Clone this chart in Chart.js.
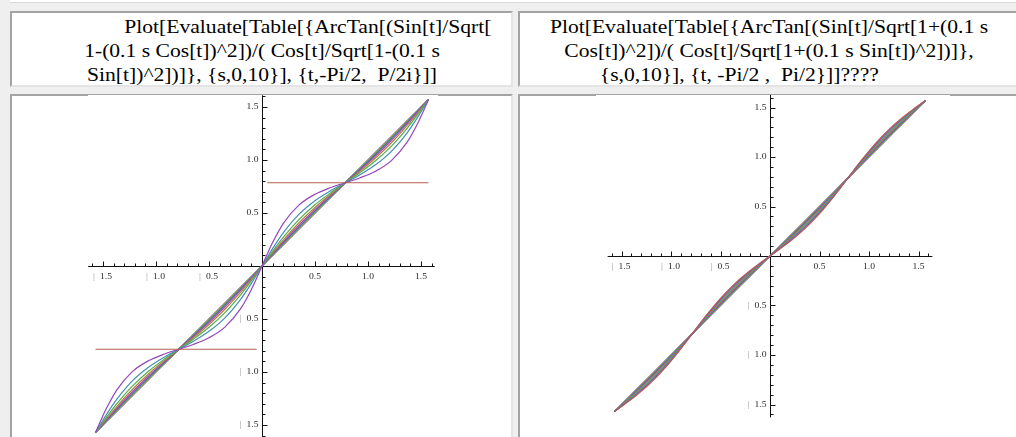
<!DOCTYPE html>
<html>
<head>
<meta charset="utf-8">
<script src="https://cdn.jsdelivr.net/npm/chart.js@4.4.1/dist/chart.umd.min.js"></script>
<style>
html, body { margin: 0; padding: 0; }
body {
  width: 1016px; height: 437px; overflow: hidden; position: relative;
  background: #efefef;
  font-family: "Liberation Serif", "Times New Roman", serif;
}
.cell {
  position: absolute; box-sizing: border-box; background: #fff;
  border-style: solid; border-width: 2px;
  border-color: #a3a3a3 #e4e4e4 #e4e4e4 #a3a3a3;
}
.top { border-width: 0 0 1px 0; border-color: #d8d8d8; }
.code {
  position: absolute; top: 2px; left: 50%; width: 460px; margin-left: -230px;
  font-size: 18px; line-height: 24px; color: #000;
  text-align: center; white-space: nowrap;
  transform: scaleX(1.2); transform-origin: center top;
}
canvas { position: absolute; background: #fff; }
</style>
</head>
<body>

<div class="cell top" style="left:10px; top:-30px; width:1010px; height:33px;"></div>

<div class="cell" style="left:10px; top:11px; width:503px; height:76px;">
  <div class="code">&nbsp;&nbsp;&nbsp;&nbsp;&nbsp;&nbsp;&nbsp;&nbsp;&nbsp;&nbsp;&nbsp;&nbsp;&nbsp;&nbsp;&nbsp;&nbsp;&nbsp;Plot[Evaluate[Table[{ArcTan[(Sin[t]/Sqrt[<br>1-(0.1 s Cos[t])^2])/( Cos[t]/Sqrt[1-(0.1 s<br>Sin[t])^2])]}, {s,0,10}], {t,-Pi/2, &nbsp;P/2i}]]</div>
</div>
<div class="cell" style="left:518px; top:11px; width:502px; height:76px;">
  <div class="code">Plot[Evaluate[Table[{ArcTan[(Sin[t]/Sqrt[1+(0.1 s<br>Cos[t])^2])/( Cos[t]/Sqrt[1+(0.1 s Sin[t])^2])]},<br>{s,0,10}], {t, -Pi/2 , &nbsp;Pi/2}]]????&nbsp;&nbsp;&nbsp;&nbsp;&nbsp;&nbsp;&nbsp;&nbsp;&nbsp;&nbsp;&nbsp;</div>
</div>

<div class="cell" style="left:10px; top:94px; width:503px; height:380px;"></div>
<div class="cell" style="left:518px; top:94px; width:502px; height:380px;"></div>

<canvas id="plotLeft" width="350" height="342" style="left:88px; top:95px;"></canvas>
<canvas id="plotRight" width="354" height="342" style="left:596px; top:95px;"></canvas>

<script>
// t from -Pi/2 to Pi/2
const tValues = [-1.5708,-1.5208,-1.4708,-1.3708,-1.2208,-1.0708,-0.9208,-0.7854,-0.65,-0.5,-0.35,-0.2,-0.1,-0.05,0,0.05,0.1,0.2,0.35,0.5,0.65,0.7854,0.9208,1.0708,1.2208,1.3708,1.4708,1.5208,1.5708];
const sValues = [0,1,2,3,4,5,6,7,8,9,10];

// left plot: Sqrt[1-(0.1 s ...)^2]
const leftS0 = [-1.5708,-1.5208,-1.4708,-1.3708,-1.2208,-1.0708,-0.9208,-0.7854,-0.65,-0.5,-0.35,-0.2,-0.1,-0.05,0,0.05,0.1,0.2,0.35,0.5,0.65,0.7854,0.9208,1.0708,1.2208,1.3708,1.4708,1.5208,1.5708];
const leftS1 = [-1.5708,-1.5205,-1.4703,-1.3699,-1.2196,-1.0697,-0.9202,-0.7854,-0.6506,-0.5011,-0.3512,-0.2009,-0.1005,-0.0503,0,0.0503,0.1005,0.2009,0.3512,0.5011,0.6506,0.7854,0.9202,1.0697,1.2196,1.3699,1.4703,1.5205,1.5708];
const leftS2 = [-1.5708,-1.5198,-1.4688,-1.3671,-1.2158,-1.0661,-0.9182,-0.7854,-0.6526,-0.5047,-0.3550,-0.2037,-0.1020,-0.0510,0,0.0510,0.1020,0.2037,0.3550,0.5047,0.6526,0.7854,0.9182,1.0661,1.2158,1.3671,1.4688,1.5198,1.5708];
const leftS3 = [-1.5708,-1.5184,-1.4661,-1.3622,-1.2090,-1.0600,-0.9147,-0.7854,-0.6561,-0.5108,-0.3618,-0.2086,-0.1047,-0.0524,0,0.0524,0.1047,0.2086,0.3618,0.5108,0.6561,0.7854,0.9147,1.0600,1.2090,1.3622,1.4661,1.5184,1.5708];
const leftS4 = [-1.5708,-1.5163,-1.4619,-1.3545,-1.1988,-1.0508,-0.9096,-0.7854,-0.6612,-0.5200,-0.3720,-0.2163,-0.1089,-0.0545,0,0.0545,0.1089,0.2163,0.3720,0.5200,0.6612,0.7854,0.9096,1.0508,1.1988,1.3545,1.4619,1.5163,1.5708];
const leftS5 = [-1.5708,-1.5131,-1.4558,-1.3434,-1.1840,-1.0376,-0.9023,-0.7854,-0.6685,-0.5332,-0.3868,-0.2274,-0.1150,-0.0577,0,0.0577,0.1150,0.2274,0.3868,0.5332,0.6685,0.7854,0.9023,1.0376,1.1840,1.3434,1.4558,1.5131,1.5708];
const leftS6 = [-1.5708,-1.5084,-1.4466,-1.3269,-1.1626,-1.0191,-0.8923,-0.7854,-0.6785,-0.5517,-0.4082,-0.2439,-0.1242,-0.0624,0,0.0624,0.1242,0.2439,0.4082,0.5517,0.6785,0.7854,0.8923,1.0191,1.1626,1.3269,1.4466,1.5084,1.5708];
const leftS7 = [-1.5708,-1.5010,-1.4322,-1.3016,-1.1312,-0.9929,-0.8784,-0.7854,-0.6924,-0.5779,-0.4396,-0.2692,-0.1386,-0.0698,0,0.0698,0.1386,0.2692,0.4396,0.5779,0.6924,0.7854,0.8784,0.9929,1.1312,1.3016,1.4322,1.5010,1.5708];
const leftS8 = [-1.5708,-1.4878,-1.4070,-1.2589,-1.0818,-0.9544,-0.8589,-0.7854,-0.7119,-0.6164,-0.4890,-0.3119,-0.1638,-0.0830,0,0.0830,0.1638,0.3119,0.4890,0.6164,0.7119,0.7854,0.8589,0.9544,1.0818,1.2589,1.4070,1.4878,1.5708];
const leftS9 = [-1.5708,-1.4572,-1.3499,-1.1703,-0.9943,-0.8939,-0.8304,-0.7854,-0.7404,-0.6769,-0.5765,-0.4005,-0.2209,-0.1136,0,0.1136,0.2209,0.4005,0.5765,0.6769,0.7404,0.7854,0.8304,0.8939,0.9943,1.1703,1.3499,1.4572,1.5708];
const leftS10 = [-0.7854,-0.7854,-0.7854,-0.7854,-0.7854,-0.7854,-0.7854,-0.7854,-0.7854,-0.7854,-0.7854,-0.7854,-0.7854,-0.7854,null,0.7854,0.7854,0.7854,0.7854,0.7854,0.7854,0.7854,0.7854,0.7854,0.7854,0.7854,0.7854,0.7854,0.7854];

// right plot: Sqrt[1+(0.1 s ...)^2]
const rightS0 = [-1.5708,-1.5208,-1.4708,-1.3708,-1.2208,-1.0708,-0.9208,-0.7854,-0.65,-0.5,-0.35,-0.2,-0.1,-0.05,0,0.05,0.1,0.2,0.35,0.5,0.65,0.7854,0.9208,1.0708,1.2208,1.3708,1.4708,1.5208,1.5708];
const rightS1 = [-1.5708,-1.5210,-1.4713,-1.3717,-1.2220,-1.0719,-0.9214,-0.7854,-0.6494,-0.4989,-0.3488,-0.1991,-0.0995,-0.0498,0,0.0498,0.0995,0.1991,0.3488,0.4989,0.6494,0.7854,0.9214,1.0719,1.2220,1.3717,1.4713,1.5210,1.5708];
const rightS2 = [-1.5708,-1.5218,-1.4727,-1.3743,-1.2256,-1.0752,-0.9233,-0.7854,-0.6475,-0.4956,-0.3452,-0.1965,-0.0981,-0.0490,0,0.0490,0.0981,0.1965,0.3452,0.4956,0.6475,0.7854,0.9233,1.0752,1.2256,1.3743,1.4727,1.5218,1.5708];
const rightS3 = [-1.5708,-1.5229,-1.4749,-1.3784,-1.2313,-1.0805,-0.9263,-0.7854,-0.6445,-0.4903,-0.3395,-0.1924,-0.0959,-0.0479,0,0.0479,0.0959,0.1924,0.3395,0.4903,0.6445,0.7854,0.9263,1.0805,1.2313,1.3784,1.4749,1.5229,1.5708];
const rightS4 = [-1.5708,-1.5243,-1.4778,-1.3837,-1.2387,-1.0875,-0.9303,-0.7854,-0.6405,-0.4833,-0.3321,-0.1871,-0.0930,-0.0465,0,0.0465,0.0930,0.1871,0.3321,0.4833,0.6405,0.7854,0.9303,1.0875,1.2387,1.3837,1.4778,1.5243,1.5708];
const rightS5 = [-1.5708,-1.5260,-1.4811,-1.3899,-1.2474,-1.0957,-0.9351,-0.7854,-0.6357,-0.4751,-0.3234,-0.1809,-0.0897,-0.0448,0,0.0448,0.0897,0.1809,0.3234,0.4751,0.6357,0.7854,0.9351,1.0957,1.2474,1.3899,1.4811,1.5260,1.5708];
const rightS6 = [-1.5708,-1.5279,-1.4847,-1.3966,-1.2569,-1.1048,-0.9404,-0.7854,-0.6304,-0.4660,-0.3139,-0.1742,-0.0861,-0.0429,0,0.0429,0.0861,0.1742,0.3139,0.4660,0.6304,0.7854,0.9404,1.1048,1.2569,1.3966,1.4847,1.5279,1.5708];
const rightS7 = [-1.5708,-1.5298,-1.4885,-1.4036,-1.2669,-1.1144,-0.9460,-0.7854,-0.6248,-0.4564,-0.3039,-0.1672,-0.0823,-0.0410,0,0.0410,0.0823,0.1672,0.3039,0.4564,0.6248,0.7854,0.9460,1.1144,1.2669,1.4036,1.4885,1.5298,1.5708];
const rightS8 = [-1.5708,-1.5317,-1.4922,-1.4107,-1.2770,-1.1242,-0.9518,-0.7854,-0.6190,-0.4466,-0.2938,-0.1601,-0.0786,-0.0391,0,0.0391,0.0786,0.1601,0.2938,0.4466,0.6190,0.7854,0.9518,1.1242,1.2770,1.4107,1.4922,1.5317,1.5708];
const rightS9 = [-1.5708,-1.5336,-1.4959,-1.4176,-1.2869,-1.1340,-0.9576,-0.7854,-0.6132,-0.4368,-0.2839,-0.1532,-0.0749,-0.0372,0,0.0372,0.0749,0.1532,0.2839,0.4368,0.6132,0.7854,0.9576,1.1340,1.2869,1.4176,1.4959,1.5336,1.5708];
const rightS10 = [-1.5708,-1.5354,-1.4994,-1.4243,-1.2966,-1.1435,-0.9633,-0.7854,-0.6075,-0.4273,-0.2742,-0.1465,-0.0714,-0.0354,0,0.0354,0.0714,0.1465,0.2742,0.4273,0.6075,0.7854,0.9633,1.1435,1.2966,1.4243,1.4994,1.5354,1.5708];

const tickValues = [-1.5, -1.0, -0.5, 0.5, 1.0, 1.5];
const tickLabels = ['| 1.5', '| 1.0', '| 0.5', '0.5', '1.0', '1.5'];

// old Mathematica default plot colours, a little brighter
const curveColors = [
  'rgb(70,70,175)', 'rgb(175,70,130)', 'rgb(175,160,70)', 'rgb(70,175,100)',
  'rgb(70,105,175)', 'rgb(175,70,165)', 'rgb(175,125,70)', 'rgb(80,175,70)',
  'rgb(70,140,185)', 'rgb(150,70,185)', 'rgb(180,95,80)'
];

const leftSeries = [leftS0, leftS1, leftS2, leftS3, leftS4, leftS5, leftS6, leftS7, leftS8, leftS9, leftS10];
const rightSeries = [rightS0, rightS1, rightS2, rightS3, rightS4, rightS5, rightS6, rightS7, rightS8, rightS9, rightS10];

const STRETCH = 1.2; // screenshot is wider than tall
const FONT = '8px "Liberation Serif", serif';

function stretchedText(ctx, text, x, y, align, color) {
  ctx.save();
  ctx.translate(x, y);
  ctx.scale(STRETCH, 1);
  ctx.textAlign = align;
  ctx.textBaseline = 'middle';
  ctx.fillStyle = color;
  ctx.fillText(text, 0, 0);
  ctx.restore();
}

// axes through the origin, ticks on the positive side
const mathAxes = {
  id: 'mathAxes',
  beforeDatasetsDraw(chart, args, opts) {
    const ctx = chart.ctx;
    const x = chart.scales.x, y = chart.scales.y;
    const x0 = Math.round(x.getPixelForValue(0)) + 0.5;
    const y0 = Math.round(y.getPixelForValue(0)) + 0.5;
    ctx.save();
    ctx.strokeStyle = '#111';
    ctx.lineWidth = 1;
    ctx.beginPath();
    ctx.moveTo(x.getPixelForValue(opts.xFrom), y0);
    ctx.lineTo(x.getPixelForValue(opts.xTo), y0);
    ctx.moveTo(x0, y.getPixelForValue(opts.yFrom));
    ctx.lineTo(x0, y.getPixelForValue(opts.yTo));
    for (let k = -16; k <= 16; k++) {
      if (k === 0) continue;
      const len = k % 5 === 0 ? 5 : 3;
      const v = k / 10;
      if (v >= opts.xFrom && v <= opts.xTo) {
        const px = Math.round(x.getPixelForValue(v)) + 0.5;
        ctx.moveTo(px, y0);
        ctx.lineTo(px, y0 - len);
      }
      if (v >= opts.yFrom && v <= opts.yTo) {
        const py = Math.round(y.getPixelForValue(v)) + 0.5;
        ctx.moveTo(x0, py);
        ctx.lineTo(x0 + len, py);
      }
    }
    ctx.stroke();

    ctx.font = FONT;
    tickValues.forEach((v, i) => {
      const label = tickLabels[i];
      const neg = label.startsWith('| ');
      const num = neg ? label.slice(2) : label;
      const w = ctx.measureText(num).width * STRETCH;
      // x axis labels
      const px = x.getPixelForValue(v);
      if (neg) {
        stretchedText(ctx, num, px + 3, y0 + 10, 'center', '#2a2a2a');
        stretchedText(ctx, '|', px + 3 - w / 2 - 6, y0 + 10, 'center', '#9a9a9a');
      } else {
        stretchedText(ctx, num, px, y0 + 10, 'center', '#2a2a2a');
      }
      // y axis labels
      const py = y.getPixelForValue(v);
      stretchedText(ctx, num, x0 - 4, py, 'right', '#2a2a2a');
      if (neg) stretchedText(ctx, '|', x0 - 4 - w - 6, py, 'center', '#9a9a9a');
    });
    ctx.restore();
  }
};

function makePlot(id, series, geo) {
  const datasets = series.map((ys, i) => ({
    label: 's = ' + sValues[i],
    data: tValues.map((t, j) => ({x: t, y: ys[j]})),
    borderColor: curveColors[i],
    borderWidth: 1.2,
    pointRadius: 0,
    fill: false,
    spanGaps: false,
    cubicInterpolationMode: 'monotone',
    order: series.length - i
  }));
  return new Chart(document.getElementById(id), {
    type: 'line',
    data: {datasets},
    options: {
      responsive: false,
      animation: false,
      events: [],
      layout: {padding: 0},
      plugins: {legend: {display: false}, tooltip: {enabled: false}, mathAxes: geo},
      scales: {
        x: {type: 'linear', display: false, min: geo.xMin, max: geo.xMax},
        y: {type: 'linear', display: false, min: geo.yMin, max: geo.yMax}
      }
    },
    plugins: [mathAxes]
  });
}

makePlot('plotLeft', leftSeries, {
  xMin: -174 / 106, xMax: 176 / 106, yMin: -171 / 106, yMax: 171 / 106,
  xFrom: -1.64, xTo: 1.63, yFrom: -1.62, yTo: 1.61
});
makePlot('plotRight', rightSeries, {
  xMin: -174 / 99, xMax: 180 / 99, yMin: -181 / 99, yMax: 161 / 99,
  xFrom: -1.64, xTo: 1.64, yFrom: -1.63, yTo: 1.63
});
</script>
</body>
</html>
